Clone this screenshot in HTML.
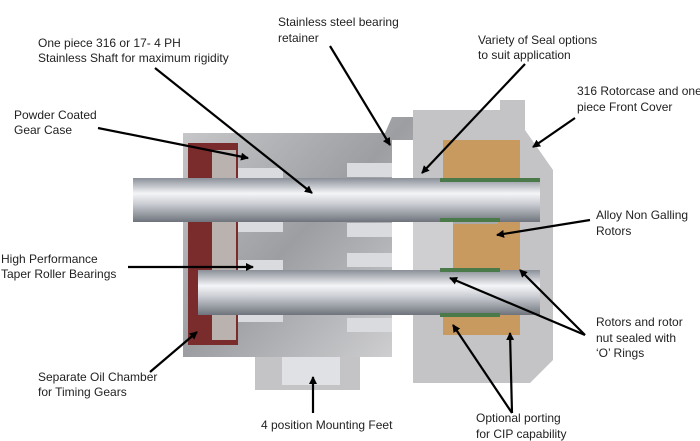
<!DOCTYPE html>
<html><head><meta charset="utf-8"><style>
body{margin:0;background:#fff;}
svg{display:block;font-family:"Liberation Sans",sans-serif;font-size:12px;}
</style></head><body>
<svg width="700" height="441" viewBox="0 0 700 441" xmlns="http://www.w3.org/2000/svg">
<defs>
<marker id="a" markerWidth="8" markerHeight="8" refX="7" refY="4" orient="auto" markerUnits="userSpaceOnUse"><path d="M0,0 L8,4 L0,8 Z" fill="#000"/></marker>
<linearGradient id="sh" x1="0" y1="0" x2="0" y2="1"><stop offset="0" stop-color="#8a8f98"/><stop offset="0.35" stop-color="#f4f5f7"/><stop offset="0.6" stop-color="#c8cbd1"/><stop offset="1" stop-color="#6f747c"/></linearGradient>
<linearGradient id="hs" x1="0" y1="0" x2="1" y2="1"><stop offset="0" stop-color="#c9c9cb"/><stop offset="0.5" stop-color="#9c9ea2"/><stop offset="1" stop-color="#d3d3d5"/></linearGradient>
</defs>
<!-- housing -->
<path d="M183,133 L385,133 L392,117 L413,117 L413,357 L183,357 Z" fill="url(#hs)"/>
<path d="M413,110 L500,110 L500,100 L525,100 L525,130 L553,170 L553,360 L530,383 L413,383 Z" fill="#c4c4c6"/>
<rect x="392" y="140" width="21" height="220" fill="#fff"/>
<rect x="255" y="357" width="105" height="33" fill="#c4c4c6"/>
<rect x="282" y="357" width="58" height="28" fill="#dfe1e4"/>
<!-- gear case -->
<rect x="188" y="143" width="50" height="202" fill="#7a2b2b"/>
<rect x="212" y="150" width="24" height="190" fill="#b9b2ae"/>
<!-- bearings -->
<rect x="238" y="168" width="45" height="14" fill="#d9dbde"/><rect x="238" y="218" width="45" height="14" fill="#d9dbde"/>
<rect x="238" y="260" width="45" height="14" fill="#d9dbde"/><rect x="238" y="308" width="45" height="14" fill="#d9dbde"/>
<rect x="347" y="163" width="45" height="14" fill="#d9dbde"/><rect x="347" y="223" width="45" height="14" fill="#d9dbde"/>
<rect x="347" y="253" width="45" height="14" fill="#d9dbde"/><rect x="347" y="318" width="45" height="14" fill="#d9dbde"/>
<!-- rotors -->
<rect x="443" y="140" width="77" height="195" fill="#c99a60"/>
<rect x="443" y="218" width="55" height="6" fill="#a9a9ab"/>
<rect x="413" y="180" width="40" height="130" fill="#cfcfd1"/>
<!-- shafts -->
<rect x="133" y="178" width="407" height="44" fill="url(#sh)"/>
<rect x="198" y="270" width="342" height="45" fill="url(#sh)"/>
<rect x="440" y="178" width="100" height="4" fill="#4a7a4a"/><rect x="440" y="218" width="60" height="4" fill="#4a7a4a"/>
<rect x="440" y="268" width="60" height="4" fill="#4a7a4a"/><rect x="440" y="313" width="60" height="4" fill="#4a7a4a"/>
<!-- arrows -->
<g stroke="#000" stroke-width="2.2" fill="none" marker-end="url(#a)">
<line x1="155" y1="68" x2="312" y2="193"/>
<line x1="330" y1="46" x2="390" y2="145"/>
<line x1="525" y1="64" x2="422" y2="173"/>
<line x1="575" y1="118" x2="533" y2="147"/>
<line x1="98" y1="128" x2="248" y2="158"/>
<line x1="590" y1="220" x2="497" y2="235"/>
<line x1="128" y1="267" x2="253" y2="267"/>
<line x1="585" y1="335" x2="450" y2="278"/>
<line x1="585" y1="335" x2="520" y2="270"/>
<line x1="150" y1="372" x2="197" y2="332"/>
<line x1="313" y1="413" x2="313" y2="377"/>
<line x1="512" y1="413" x2="453" y2="325"/>
<line x1="512" y1="413" x2="510" y2="333"/>
</g>
<g fill="#222">
<text x="38" y="47">One piece 316 or 17- 4 PH</text>
<text x="38" y="62">Stainless Shaft for maximum rigidity</text>
<text x="278" y="26">Stainless steel bearing</text>
<text x="278" y="42">retainer</text>
<text x="478" y="44">Variety of Seal options</text>
<text x="478" y="59">to suit application</text>
<text x="577" y="95">316 Rotorcase and one</text>
<text x="577" y="111">piece Front Cover</text>
<text x="14" y="119">Powder Coated</text>
<text x="14" y="134">Gear Case</text>
<text x="596" y="219">Alloy Non Galling</text>
<text x="596" y="235">Rotors</text>
<text x="1" y="263">High Performance</text>
<text x="1" y="278">Taper Roller Bearings</text>
<text x="596" y="326">Rotors and rotor</text>
<text x="596" y="342">nut sealed with</text>
<text x="596" y="357">‘O’ Rings</text>
<text x="38" y="381">Separate Oil Chamber</text>
<text x="38" y="396">for Timing Gears</text>
<text x="261" y="429">4 position Mounting Feet</text>
<text x="476" y="422">Optional porting</text>
<text x="476" y="438">for CIP capability</text>
</g>
</svg>
</body></html>
